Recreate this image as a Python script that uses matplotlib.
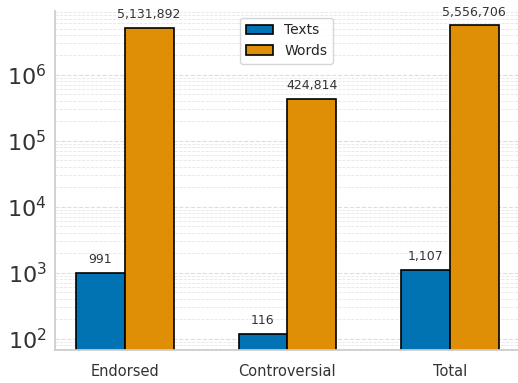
import matplotlib
matplotlib.use("Agg")
import matplotlib.pyplot as plt
import seaborn as sns
import numpy as np

categories = ["Endorsed", "Controversial", "Total"]
texts = [991, 116, 1107]
words = [5131892, 424814, 5556706]
series_names = ["Texts", "Words"]

sns.set_theme(style="whitegrid")
pal = sns.color_palette("colorblind")

fig, ax = plt.subplots(figsize=(5.18, 3.83), dpi=100)
fig.subplots_adjust(left=0.106, right=1.0, top=0.972, bottom=0.085)

x = np.arange(len(categories))
w = 0.3
b1 = ax.bar(x - w/2, texts, w, color=pal[0], edgecolor="black", linewidth=1.2, label=series_names[0])
b2 = ax.bar(x + w/2, words, w, color=pal[1], edgecolor="black", linewidth=1.2, label=series_names[1])
ax.set_yscale("log")
ax.set_ylim(66, 9.3e6)
ax.set_xlim(-0.43, 2.42)

for bars in (b1, b2):
    for r in bars:
        h = r.get_height()
        ax.annotate(f"{h:,}", (r.get_x() + r.get_width()/2, h), xytext=(0, 5),
                    textcoords="offset points", ha="center", va="bottom",
                    fontsize=9, color="#333333")

ax.set_xticks(x)
ax.set_xticklabels(categories, fontsize=10.5, color="#333333")
ax.tick_params(axis="y", labelsize=16, colors="#333333", pad=0)
ax.grid(axis="x", visible=False)
ax.grid(axis="y", which="major", linestyle="--", color="#dddddd", linewidth=0.8)
ax.grid(axis="y", which="minor", linestyle="--", color="#e6e6e6", linewidth=0.6)
ax.set_axisbelow(True)
for s in ["top", "right"]:
    ax.spines[s].set_visible(False)
for s in ["left", "bottom"]:
    ax.spines[s].set_color("#cccccc")
ax.legend(loc="upper center", fontsize=10, frameon=True)

fig.savefig("out.png", dpi=100)
